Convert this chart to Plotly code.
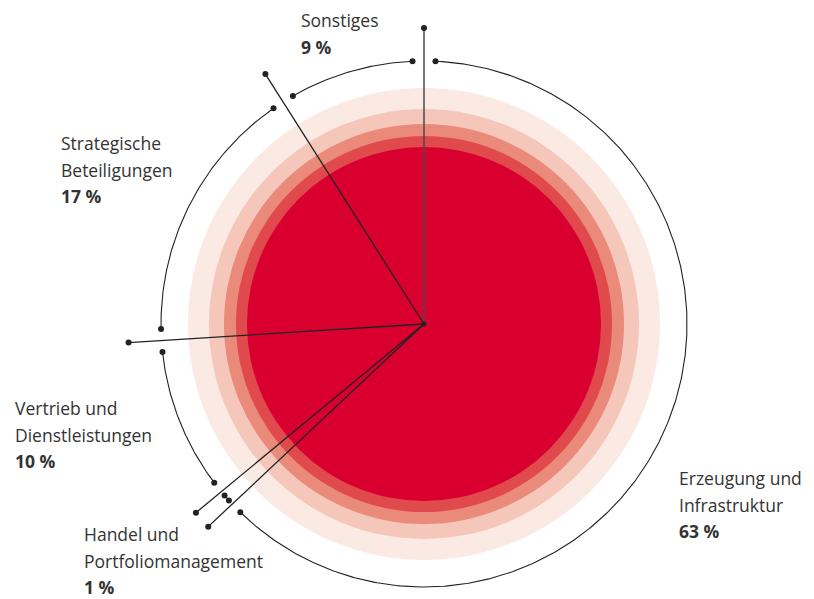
import math
import plotly.graph_objects as go

# data (counter-clockwise from 12 o'clock)
segments = [["Sonstiges"], ["Strategische", "Beteiligungen"], ["Vertrieb und", "Dienstleistungen"],
            ["Handel und", "Portfoliomanagement"], ["Erzeugung und", "Infrastruktur"]]
shares = [9, 17, 10, 1, 63]

# label position: left edge / centre of first line, page pixels
label_left = [300, 60, 14, 83, 678]
label_top = [20, 143, 408, 534, 478]

ring_radii = [236, 215, 200, 188, 177]
ring_colors = ["#fbeae3", "#f5c6ba", "#ea8a7a", "#e04a4c", "#d90030"]
R_ARC = 263
R_LINE = 296
INK = "#222222"
LINE_GAP = 26.7

cx, cy = 424, 324          # centre in page pixels
PAD = 8                    # default body margin of the html page
W, H = 814 - PAD, 599 - PAD

fig = go.Figure()

for r, c in zip(ring_radii, ring_colors):
    fig.add_shape(type="circle", x0=-r, y0=-r, x1=r, y1=r, xref="x", yref="y",
                  fillcolor=c, line_width=0, layer="below")

def pt(deg, r):
    # deg: counter-clockwise from top
    a = math.radians(90 + deg)
    return r * math.cos(a), r * math.sin(a)

total = sum(shares)
bounds = [0]
for s in shares:
    bounds.append(bounds[-1] + s / total * 360)

# radial boundary lines
for i, b in enumerate(bounds[:-1]):
    x, y = pt(b, R_LINE)
    col = "#4a4a4a" if i == 0 else INK
    fig.add_trace(go.Scatter(x=[0, x], y=[0, y], mode="lines",
                             line=dict(color=col, width=1.5 if i == 0 else 1.3), hoverinfo="skip"))
    fig.add_trace(go.Scatter(x=[x], y=[y], mode="markers",
                             marker=dict(color=INK, size=6), hoverinfo="skip"))

# outer arcs
for i in range(len(shares)):
    a0, a1 = bounds[i], bounds[i + 1]
    gap = min(2.5, (a1 - a0) * 0.3)
    a0, a1 = a0 + gap, a1 - gap
    n = max(2, int((a1 - a0) * 2))
    xs, ys = [], []
    for k in range(n + 1):
        x, y = pt(a0 + (a1 - a0) * k / n, R_ARC)
        xs.append(x)
        ys.append(y)
    fig.add_trace(go.Scatter(x=xs, y=ys, mode="lines",
                             line=dict(color=INK, width=1.1), hoverinfo="skip"))
    fig.add_trace(go.Scatter(x=[xs[0], xs[-1]], y=[ys[0], ys[-1]], mode="markers",
                             marker=dict(color=INK, size=6), hoverinfo="skip"))

fig.add_trace(go.Scatter(x=[0], y=[0], mode="markers",
                         marker=dict(color=INK, size=5), hoverinfo="skip"))

for lines, val, lx, ly in zip(segments, shares, label_left, label_top):
    texts = lines + [f"<b>{val} %</b>"]
    for j, t in enumerate(texts):
        fig.add_annotation(x=lx - cx, y=cy - (ly + j * LINE_GAP), xanchor="left", yanchor="middle",
                           text=t, showarrow=False, align="left", borderpad=0,
                           font=dict(family="Open Sans", size=17.5, color="#333333"))

fig.update_xaxes(range=[-(cx - PAD), W - (cx - PAD)], visible=False, fixedrange=True)
fig.update_yaxes(range=[(cy - PAD) - H, cy - PAD], visible=False, fixedrange=True)
fig.update_layout(width=W, height=H, margin=dict(l=0, r=0, t=0, b=0),
                  plot_bgcolor="white", paper_bgcolor="white", showlegend=False)

fig.write_html("out.html")
